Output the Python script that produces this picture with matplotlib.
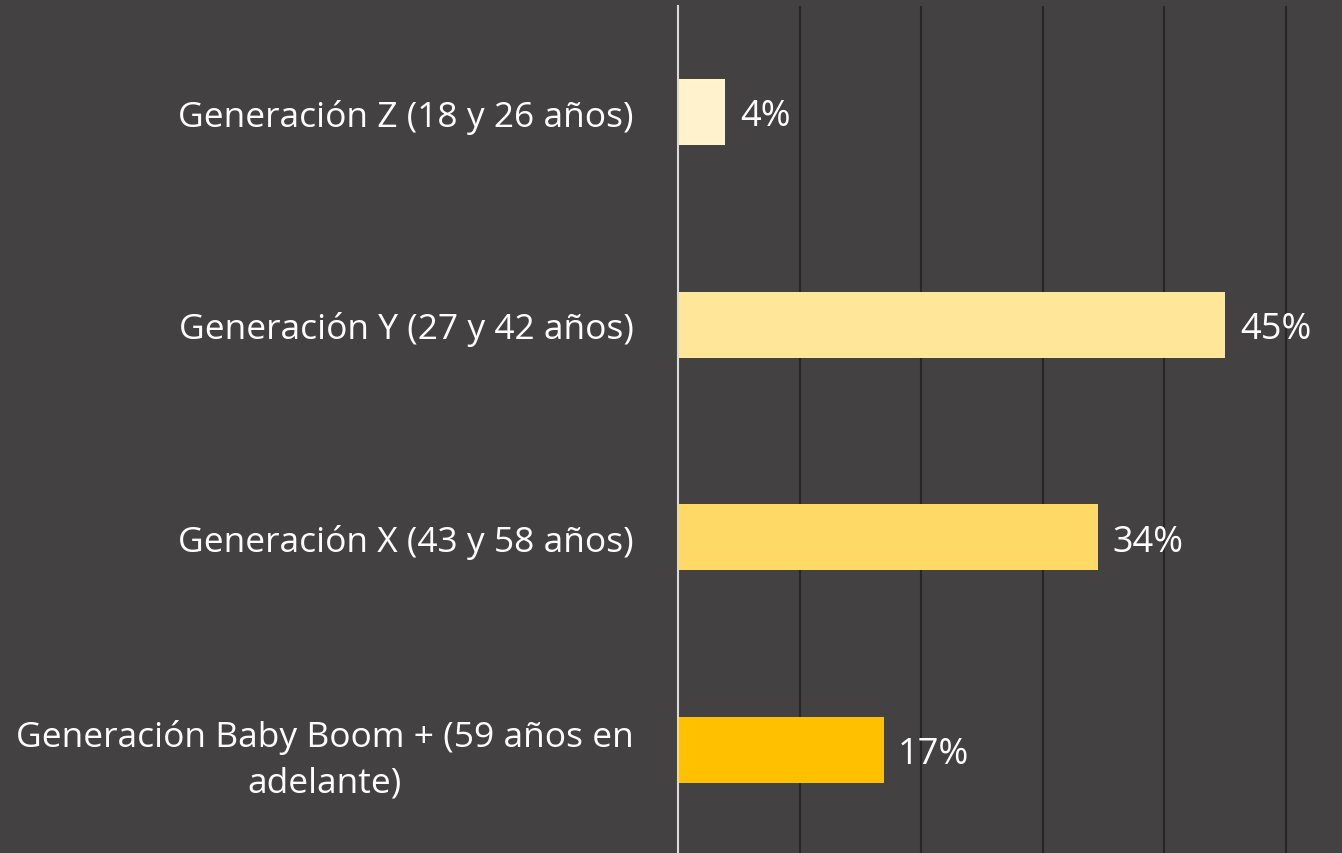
import matplotlib.pyplot as plt

categorias = ['Generación Z (18 y 26 años)', 'Generación Y (27 y 42 años)',
              'Generación X (43 y 58 años)', 'Generación Baby Boom + (59 años en\nadelante)']
valores = [3.9, 45.0, 34.5, 16.9]
etiquetas = ['4%', '45%', '34%', '17%']
colores = ['#FFF2CC', '#FFE699', '#FFD966', '#FFC000']

fondo = '#434142'
plt.rcParams['font.family'] = ['Open Sans', 'DejaVu Sans']

fig = plt.figure(figsize=(13.42, 8.54), dpi=100, facecolor=fondo)
ax = fig.add_axes([678 / 1342, -3 / 854, 55 * 12.16 / 1342, 850 / 854])
ax.set_facecolor(fondo)

pos = list(range(len(categorias)))
ax.barh(pos, valores, height=0.31, color=colores, zorder=3)
for p, v, t in zip(pos, valores, etiquetas):
    ax.text(v + 1.2, p + 0.02, t, va='center', ha='left', color='white', fontsize=26, zorder=4)

ax.set_xlim(0, 55)
ax.set_ylim(3.5, -0.5)
ax.set_xticks([10, 20, 30, 40, 50])
ax.grid(axis='x', color='#262626', linewidth=1.5, zorder=1)
ax.tick_params(axis='x', length=0, labelbottom=False)
ax.set_yticks(pos)
ax.set_yticklabels(categorias, color='white', fontsize=25.5)
for lbl in ax.get_yticklabels():
    lbl.set_multialignment('center')
    lbl.set_linespacing(1.45)
ax.tick_params(axis='y', length=0, pad=32)
for s in ['top', 'right', 'bottom']:
    ax.spines[s].set_visible(False)
ax.spines['left'].set_color('#D9D9D9')
ax.spines['left'].set_linewidth(1.5)
ax.spines['left'].set_zorder(5)

plt.savefig('out.png', dpi=100, facecolor=fondo)
